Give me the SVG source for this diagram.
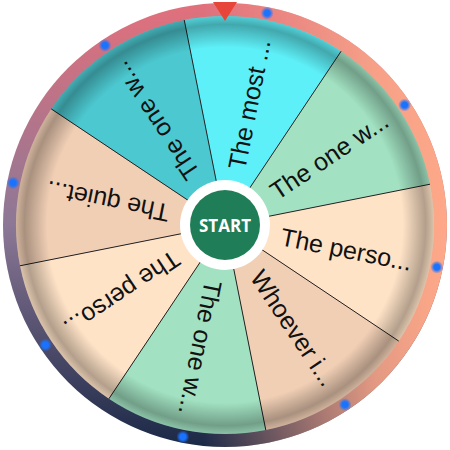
<svg xmlns="http://www.w3.org/2000/svg" xmlns:xlink="http://www.w3.org/1999/xlink" width="450" height="450" viewBox="0 0 450 450">
  <defs>
    <linearGradient id="ringV" x1="0" y1="0" x2="0" y2="1">
      <stop offset="0" stop-color="#e2707c"/>
      <stop offset="0.5" stop-color="#8c7896"/>
      <stop offset="1" stop-color="#1a2846"/>
    </linearGradient>
    <linearGradient id="ringH" x1="1" y1="0" x2="0.45" y2="0">
      <stop offset="0" stop-color="#ffa888" stop-opacity="1"/>
      <stop offset="0.3" stop-color="#ffa888" stop-opacity="0.85"/>
      <stop offset="1" stop-color="#ffa888" stop-opacity="0"/>
    </linearGradient>
    <radialGradient id="shade" cx="225" cy="225" r="209" gradientUnits="userSpaceOnUse">
      <stop offset="0.85" stop-color="#000" stop-opacity="0"/>
      <stop offset="0.96" stop-color="#000" stop-opacity="0.3"/>
      <stop offset="1" stop-color="#000" stop-opacity="0.14"/>
    </radialGradient>
    <radialGradient id="glow">
      <stop offset="0.45" stop-color="#1a73ff" stop-opacity="1"/>
      <stop offset="1" stop-color="#1a73ff" stop-opacity="0"/>
    </radialGradient>
    <path id="seg" d="M225,225 L145.02,31.91 A209,209 0 0 1 304.98,31.91 Z"/>
  </defs>
  <style>
    .lbl { font-family: "Liberation Sans", Arial, sans-serif; font-size: 25px; fill: #111; dominant-baseline: central; }
    .div { stroke: #222; stroke-width: 1; }
    .dot { fill: url(#glow); }
  </style>

  <g id="ring">
    <circle cx="225" cy="225" r="222" fill="url(#ringV)"/>
    <circle cx="225" cy="225" r="222" fill="url(#ringH)"/>
  </g>

  <g id="seg-0">
    <use xlink:href="#seg" fill="#5ef0f8" transform="rotate(11.25 225 225)"/>
    <text class="lbl" x="282" y="225" transform="rotate(-78.75 225 225)">The most ...</text>
  </g>
  <g id="seg-1">
    <use xlink:href="#seg" fill="#a2e2c2" transform="rotate(56.25 225 225)"/>
    <text class="lbl" x="282" y="225" transform="rotate(-33.75 225 225)">The one w...</text>
  </g>
  <g id="seg-2">
    <use xlink:href="#seg" fill="#ffe3c7" transform="rotate(101.25 225 225)"/>
    <text class="lbl" x="282" y="225" transform="rotate(11.25 225 225)">The perso...</text>
  </g>
  <g id="seg-3">
    <use xlink:href="#seg" fill="#f1cfb5" transform="rotate(146.25 225 225)"/>
    <text class="lbl" x="282" y="225" transform="rotate(56.25 225 225)">Whoever i...</text>
  </g>
  <g id="seg-4">
    <use xlink:href="#seg" fill="#a2e2c2" transform="rotate(191.25 225 225)"/>
    <text class="lbl" x="282" y="225" transform="rotate(101.25 225 225)">The one w...</text>
  </g>
  <g id="seg-5">
    <use xlink:href="#seg" fill="#ffe3c7" transform="rotate(236.25 225 225)"/>
    <text class="lbl" x="282" y="225" transform="rotate(146.25 225 225)">The perso...</text>
  </g>
  <g id="seg-6">
    <use xlink:href="#seg" fill="#f1cfb5" transform="rotate(281.25 225 225)"/>
    <text class="lbl" x="282" y="225" transform="rotate(191.25 225 225)">The quiet...</text>
  </g>
  <g id="seg-7">
    <use xlink:href="#seg" fill="#4cc8d0" transform="rotate(326.25 225 225)"/>
    <text class="lbl" x="282" y="225" transform="rotate(236.25 225 225)">The one w...</text>
  </g>

  <g id="connectors">
    <line class="div" x1="225" y1="225" x2="184.23" y2="20.01"/>
    <line class="div" x1="225" y1="225" x2="341.11" y2="51.22"/>
    <line class="div" x1="225" y1="225" x2="429.99" y2="184.23"/>
    <line class="div" x1="225" y1="225" x2="398.78" y2="341.11"/>
    <line class="div" x1="225" y1="225" x2="265.77" y2="429.99"/>
    <line class="div" x1="225" y1="225" x2="108.89" y2="398.78"/>
    <line class="div" x1="225" y1="225" x2="20.01" y2="265.77"/>
    <line class="div" x1="225" y1="225" x2="51.22" y2="108.89"/>
  </g>

  <circle id="shading" cx="225" cy="225" r="209" fill="url(#shade)"/>

  <g id="dots">
    <circle class="dot" cx="267.14" cy="13.15" r="6.5"/>
    <circle class="dot" cx="404.60" cy="105.00" r="6.5"/>
    <circle class="dot" cx="436.85" cy="267.14" r="6.5"/>
    <circle class="dot" cx="345.00" cy="404.60" r="6.5"/>
    <circle class="dot" cx="182.86" cy="436.85" r="6.5"/>
    <circle class="dot" cx="45.40" cy="345.00" r="6.5"/>
    <circle class="dot" cx="13.15" cy="182.86" r="6.5"/>
    <circle class="dot" cx="105.00" cy="45.40" r="6.5"/>
  </g>

  <polygon id="pointer" points="213,2 237,2 225,21" fill="#e8453a"/>

  <g id="start">
    <circle cx="225" cy="225" r="45" fill="#ffffff"/>
    <circle cx="225" cy="225" r="35" fill="#1f7d57"/>
    <text x="225" y="225" text-anchor="middle" dominant-baseline="central" font-family="'Open Sans', 'Liberation Sans', sans-serif" font-weight="bold" font-size="17" fill="#ffffff">START</text>
  </g>
</svg>
